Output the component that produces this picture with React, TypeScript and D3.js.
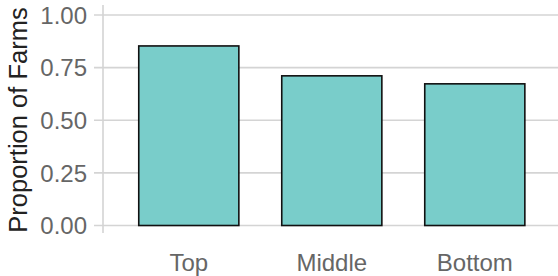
import React, { useRef, useEffect } from "react";
import { select, scaleLinear, scaleBand } from "d3";

const categories = ["Top", "Middle", "Bottom"];
const proportions = [0.853, 0.711, 0.673];
const yTicks = [0, 0.25, 0.5, 0.75, 1];

function App() {
  const svgRef = useRef<SVGSVGElement>(null);

  useEffect(() => {
    const width = 558;
    const height = 276;
    const panel = { left: 103, top: 5, bottom: 233 };

    const svg = select(svgRef.current);
    svg.selectAll("*").remove();
    svg.attr("width", width).attr("height", height);

    const x = scaleBand<string>()
      .domain(categories)
      .range([panel.left, panel.left + 3.2 * 143])
      .paddingInner(0.3)
      .paddingOuter(0.25);

    const y = scaleLinear().domain([0, 1]).range([225.5, 15]);

    const font = "'Liberation Sans', Arial, sans-serif";

    // grid + ticks
    svg.selectAll(".grid")
      .data(yTicks)
      .join("line")
      .attr("class", "grid")
      .attr("x1", panel.left - 9)
      .attr("x2", width)
      .attr("y1", (d) => y(d))
      .attr("y2", (d) => y(d))
      .attr("stroke", "#d4d4d4")
      .attr("stroke-width", 1.6);

    svg.append("line")
      .attr("x1", panel.left)
      .attr("x2", panel.left)
      .attr("y1", panel.top)
      .attr("y2", panel.bottom)
      .attr("stroke", "#d4d4d4")
      .attr("stroke-width", 1.6);

    svg.selectAll(".ytick")
      .data(yTicks)
      .join("text")
      .attr("class", "ytick")
      .attr("x", 87)
      .attr("y", (d) => y(d))
      .attr("dy", "0.36em")
      .attr("text-anchor", "end")
      .attr("font-family", font)
      .attr("font-size", 24)
      .attr("fill", "#666")
      .text((d) => d.toFixed(2));

    svg.selectAll(".bar")
      .data(proportions)
      .join("rect")
      .attr("class", "bar")
      .attr("x", (d, i) => x(categories[i])!)
      .attr("width", x.bandwidth())
      .attr("y", (d) => y(d))
      .attr("height", (d) => y(0) - y(d))
      .attr("fill", "#79cdca")
      .attr("stroke", "#111")
      .attr("stroke-width", 1.6);

    svg.selectAll(".xtick")
      .data(categories)
      .join("text")
      .attr("class", "xtick")
      .attr("x", (d) => x(d)! + x.bandwidth() / 2)
      .attr("y", 271)
      .attr("text-anchor", "middle")
      .attr("font-family", font)
      .attr("font-size", 24)
      .attr("fill", "#666")
      .text((d) => d);

    svg.append("text")
      .attr("transform", `translate(27, ${(panel.top + panel.bottom) / 2 + 1}) rotate(-90)`)
      .attr("text-anchor", "middle")
      .attr("font-family", font)
      .attr("font-size", 25.5)
      .attr("fill", "#222")
      .text("Proportion of Farms");
  }, []);

  return (
    <svg ref={svgRef} style={{ position: "absolute", left: 0, top: 0 }}></svg>
  );
}

export default App;
